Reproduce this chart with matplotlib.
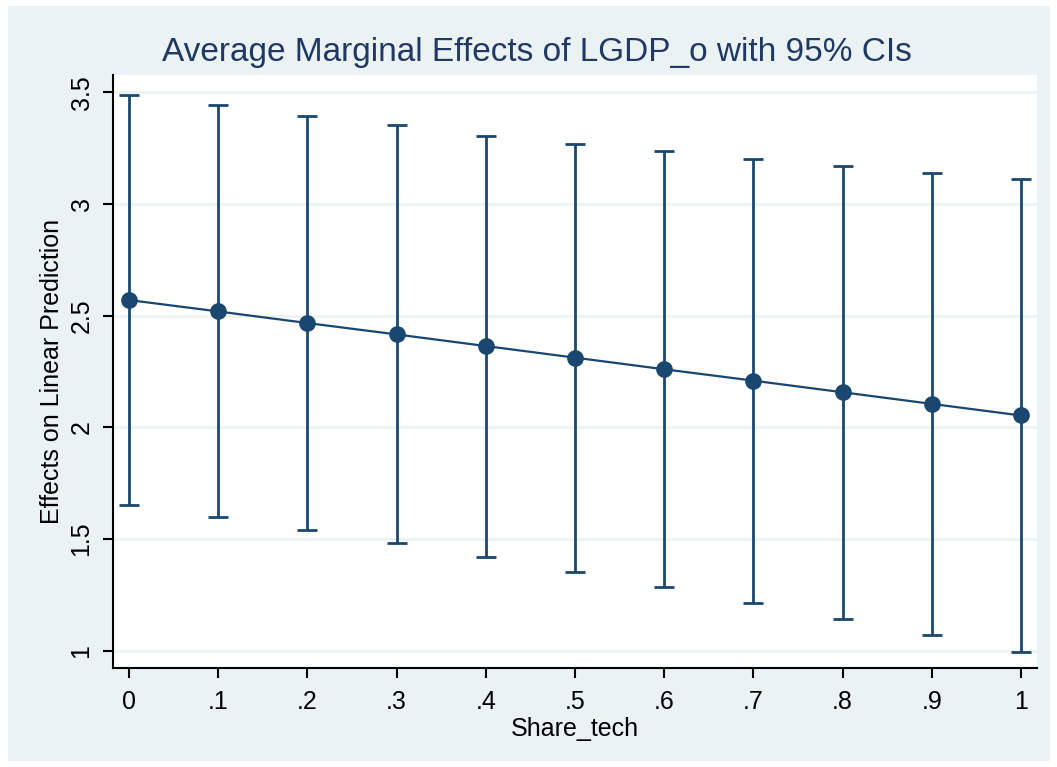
import numpy as np
import matplotlib.pyplot as plt
from matplotlib.patches import Rectangle

share_tech = [0, .1, .2, .3, .4, .5, .6, .7, .8, .9, 1]
margins = [2.570, 2.519, 2.467, 2.416, 2.364, 2.312, 2.260, 2.209, 2.157, 2.105, 2.053]
ci_upper = [3.487, 3.442, 3.393, 3.352, 3.307, 3.271, 3.236, 3.204, 3.171, 3.138, 3.110]
ci_lower = [1.654, 1.597, 1.541, 1.480, 1.421, 1.353, 1.284, 1.214, 1.143, 1.071, 0.994]
xtick_labels = ['0', '.1', '.2', '.3', '.4', '.5', '.6', '.7', '.8', '.9', '1']
ytick_vals = [1, 1.5, 2, 2.5, 3, 3.5]
ytick_labels = ['1', '1.5', '2', '2.5', '3', '3.5']

navy = '#1a476f'
bg = '#eaf2f3'
plt.rcParams['font.family'] = ['Liberation Sans', 'DejaVu Sans']

fig = plt.figure(figsize=(10.57, 7.67), dpi=100, facecolor='white')
# stata-style outer panel, kept behind the axes
fig.patches.append(Rectangle((8 / 1057, 6 / 767), 1042 / 1057, 755 / 767,
                             transform=fig.transFigure, facecolor=bg,
                             edgecolor='none', zorder=-10))

ax = fig.add_axes([113 / 1057, 99 / 767, 924 / 1057, 593 / 767])
ax.set_facecolor('white')

x = np.array(share_tech)
y = np.array(margins)
lo = np.array(ci_lower)
hi = np.array(ci_upper)

ax.errorbar(x, y, yerr=[y - lo, hi - y], fmt='none', ecolor=navy,
            elinewidth=2, capsize=7, capthick=2, zorder=3)
ax.plot(x, y, '-o', color=navy, lw=1.6, markersize=11, zorder=4)

ax.set_xlim(-0.018, 1.018)
ax.set_ylim(0.922, 3.578)
ax.set_xticks(share_tech)
ax.set_xticklabels(xtick_labels)
ax.set_yticks(ytick_vals)
ax.set_yticklabels(ytick_labels, rotation=90, va='center')
ax.grid(axis='y', color=bg, lw=1.8)
ax.set_axisbelow(True)

for side in ['top', 'right']:
    ax.spines[side].set_visible(False)
for side in ['left', 'bottom']:
    ax.spines[side].set_linewidth(1.5)
    ax.spines[side].set_color('black')

ax.tick_params(axis='both', direction='out', length=7, width=1.5,
               labelsize=18, colors='black', pad=7)
ax.tick_params(axis='x', pad=9)

ax.set_xlabel('Share_tech', fontsize=18, labelpad=2)
ax.set_ylabel('Effects on Linear Prediction', fontsize=18, labelpad=4)
fig.text(537 / 1057, 1 - 52 / 767, 'Average Marginal Effects of LGDP_o with 95% CIs',
         ha='center', va='center', fontsize=24, color='#1f3864')

fig.savefig('out.png', dpi=100, facecolor='white')
